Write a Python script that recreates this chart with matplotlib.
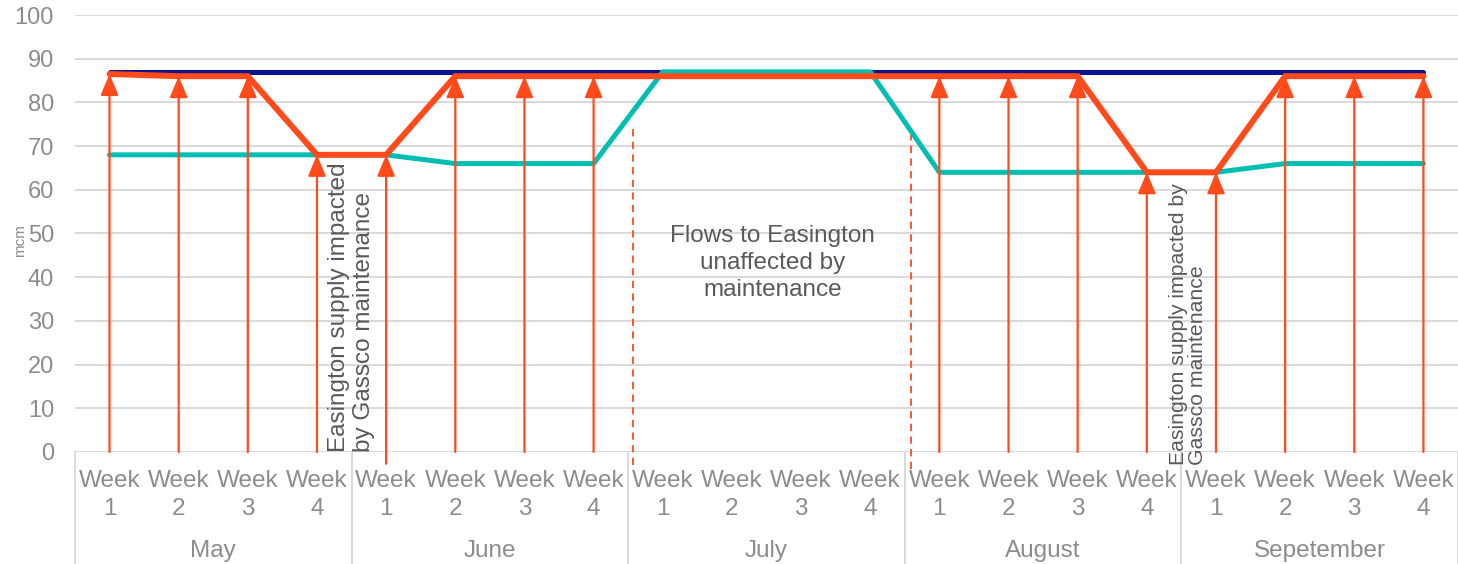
import numpy as np
import matplotlib.pyplot as plt
import matplotlib.transforms as mtransforms

plt.rcParams['font.family'] = ['Liberation Sans', 'DejaVu Sans']

months = ['May', 'June', 'July', 'August', 'Sepetember']
week_labels = ['Week\n1', 'Week\n2', 'Week\n3', 'Week\n4']

capacity = [87, 87, 87, 87, 87, 87, 87, 87, 87, 87,
            87, 87, 87, 87, 87, 87, 87, 87, 87, 87]
flows = [68, 68, 68, 68, 68, 66, 66, 66, 87, 87,
         87, 87, 64, 64, 64, 64, 64, 66, 66, 66]
supply = [86.5, 86, 86, 68, 68, 86, 86, 86, 86, 86,
          86, 86, 86, 86, 86, 64, 64, 86, 86, 86]
has_arrow = [1, 1, 1, 1, 1, 1, 1, 1, 0, 0,
             0, 0, 1, 1, 1, 1, 1, 1, 1, 1]

NAVY = '#0a148c'
TEAL = '#00bfb2'
ORANGE = '#ff4a1c'
GRID = '#d9d9d9'
TICK = '#8c8c8c'
NOTE = '#595959'

fig = plt.figure(figsize=(14.58, 5.64), dpi=100)
ax = fig.add_axes([0.0514, 0.1986, 0.9486, 0.7748])

x = np.arange(len(supply))

ax.plot(x, capacity, color=NAVY, lw=3.6, solid_capstyle='round', zorder=3)
ax.plot(x, flows, color=TEAL, lw=3.6, solid_capstyle='round', zorder=4)
ax.plot(x, supply, color=ORANGE, lw=4.3, solid_capstyle='round',
        solid_joinstyle='miter', zorder=5)

# arrows up to the supply line
for i in x:
    if not has_arrow[i]:
        continue
    base = -2.7 if i == 4 else 0
    ax.annotate('', xy=(i, supply[i]), xytext=(i, base),
                arrowprops=dict(arrowstyle='-|>,head_length=1.0,head_width=0.42',
                                color=ORANGE, lw=1.6, shrinkA=0, shrinkB=0,
                                mutation_scale=13),
                annotation_clip=False, zorder=6)

# dashed markers around July
ax.plot([7.57, 7.57], [-3, 74.8], color=ORANGE, lw=1.3, ls=(0, (4, 3)),
        clip_on=False, zorder=6)
ax.plot([11.59, 11.59], [-4, 72.5], color=ORANGE, lw=1.3, ls=(0, (4, 3)),
        clip_on=False, zorder=6)

ax.text(3.5, 0, 'Easington supply impacted\nby Gassco maintenance',
        rotation=90, ha='center', va='bottom', multialignment='left',
        fontsize=17.5, color=NOTE, linespacing=1.15, zorder=7)
ax.text(15.6, -3, 'Easington supply impacted by\nGassco maintenance',
        rotation=90, ha='center', va='bottom', multialignment='left',
        fontsize=15.3, color=NOTE, linespacing=1.0, zorder=7)
ax.text(9.59, 43.2, 'Flows to Easington\nunaffected by\nmaintenance',
        ha='center', va='center', fontsize=17.5, color=NOTE, linespacing=1.3)

ax.set_xlim(-0.5, len(supply) - 0.5)
ax.set_ylim(0, 100)
ax.set_yticks(np.arange(0, 101, 10))
ax.grid(axis='y', color=GRID, lw=1.4)
ax.set_axisbelow(True)
for s in ax.spines.values():
    s.set_visible(False)

ax.tick_params(axis='y', length=0, pad=15, labelsize=17, labelcolor=TICK)
ax.set_xticks(x)
ax.set_xticklabels(week_labels * len(months))
ax.tick_params(axis='x', length=0, pad=13, labelsize=17.5, labelcolor=TICK)
for lab in ax.get_xticklabels():
    lab.set_linespacing(1.35)

fig.text(0.0137, 0.574, 'mcm', rotation=90, ha='center', va='center',
         fontsize=11, color=TICK)

# month grouping row
trans = mtransforms.blended_transform_factory(ax.transData, ax.transAxes)
for k in range(len(months) + 1):
    ax.plot([4 * k - 0.5, 4 * k - 0.5], [0, -0.26], color=GRID, lw=1.4,
            transform=trans, clip_on=False)
for k, m in enumerate(months):
    ax.text(4 * k + 1.5, -0.226, m, transform=trans, ha='center', va='center',
            fontsize=17.5, color=TICK)

fig.savefig('out.png', dpi=100)
